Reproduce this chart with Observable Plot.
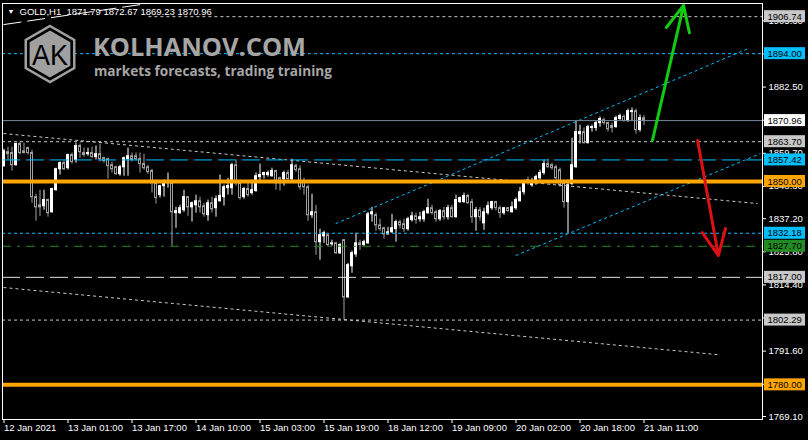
<!DOCTYPE html>
<html><head><meta charset="utf-8">
<script src="https://cdn.jsdelivr.net/npm/d3@7"></script>
<script src="https://cdn.jsdelivr.net/npm/@observablehq/plot@0.6"></script>
<style>
html,body{margin:0;padding:0;background:#000;}
#wrap{position:relative;width:808px;height:440px;overflow:hidden;background:#000;}
</style></head><body><div id="wrap"></div>
<script>
// ---- data ----
const opens = [1855.3,1860.1,1859.8,1855.6,1862.9,1860.4,1861.5,1859.8,1844.6,1841.8,1841.5,1843.6,1839.4,1847.0,1854.2,1856.3,1854.6,1859.1,1857.4,1862.2,
1859.8,1859.4,1859.8,1858.4,1859.4,1858.0,1857.7,1855.6,1854.9,1852.5,1854.9,1857.7,1858.7,1858.7,1857.7,1856.0,1854.9,1853.6,1849.4,1845.3,
1848.4,1849.4,1849.4,1839.1,1839.1,1840.1,1844.6,1841.1,1841.8,1843.2,1841.5,1838.4,1842.5,1840.8,1843.2,1844.6,1847.7,1847.7,1855.6,1849.4,
1844.6,1847.4,1846.0,1846.7,1851.5,1852.2,1852.2,1851.8,1853.6,1851.1,1850.8,1852.9,1850.8,1855.3,1854.2,1849.8,1848.0,1838.4,1839.4,1829.1,
1831.1,1831.5,1828.4,1828.7,1825.3,1829.8,1810.1,1820.8,1824.9,1828.7,1828.1,1828.7,1838.7,1838.4,1834.9,1833.9,1831.8,1832.5,1833.6,1836.0,
1835.3,1833.6,1836.7,1838.0,1837.0,1837.0,1839.1,1840.8,1839.4,1837.0,1839.8,1837.7,1840.8,1837.7,1842.9,1842.9,1845.0,1842.9,1837.7,1840.1,
1835.6,1839.1,1840.8,1842.9,1840.8,1839.1,1840.8,1839.4,1840.8,1843.2,1846.3,1850.5,1848.7,1849.8,1851.1,1852.9,1856.0,1855.6,1854.9,1853.9,
1849.4,1842.9,1849.1,1854.9,1866.3,1867.0,1863.2,1868.4,1868.4,1870.1,1871.1,1870.1,1869.1,1868.7,1871.5,1872.2,1870.8,1873.9,1874.2,1867.7,
1871.79];
const highs = [1861.1,1861.8,1861.8,1863.2,1863.6,1863.2,1861.8,1860.8,1845.6,1847.0,1847.0,1843.9,1847.7,1854.6,1856.7,1857.0,1859.4,1859.8,1863.2,1862.9,
1861.5,1861.5,1861.8,1862.2,1862.9,1858.4,1858.0,1856.7,1855.3,1855.6,1858.4,1861.5,1859.8,1859.8,1859.8,1859.4,1855.6,1854.2,1850.5,1848.7,
1850.5,1852.9,1850.5,1841.1,1841.8,1847.0,1844.6,1842.9,1845.3,1844.6,1842.5,1843.6,1844.6,1845.0,1852.2,1848.7,1851.1,1856.3,1857.4,1850.5,
1848.0,1849.4,1850.5,1852.9,1856.0,1853.2,1853.6,1854.6,1853.9,1851.5,1853.6,1853.9,1857.7,1856.0,1855.3,1851.1,1848.7,1845.6,1841.8,1833.6,
1832.9,1831.8,1829.8,1829.1,1828.7,1830.1,1821.8,1826.0,1832.2,1829.8,1829.8,1839.4,1841.1,1839.1,1837.0,1834.2,1834.2,1838.7,1836.7,1836.7,
1837.0,1837.7,1839.4,1839.1,1839.4,1840.1,1843.9,1841.8,1840.1,1840.4,1841.1,1841.8,1841.8,1845.3,1844.6,1846.0,1845.6,1843.9,1841.1,1841.1,
1840.8,1842.9,1843.2,1843.2,1841.5,1841.1,1841.1,1842.9,1844.3,1848.0,1850.5,1851.5,1851.1,1852.2,1853.9,1857.4,1857.7,1856.3,1855.6,1854.6,
1850.5,1850.5,1864.9,1870.8,1869.4,1868.4,1869.4,1869.4,1870.8,1872.2,1871.8,1870.4,1870.1,1872.5,1873.2,1872.9,1874.9,1875.3,1874.9,1872.9,
1872.67];
const lows = [1854.9,1857.4,1853.6,1855.3,1859.1,1859.4,1859.1,1842.5,1836.3,1838.0,1840.1,1837.7,1839.1,1846.7,1852.2,1853.9,1853.9,1856.0,1856.3,1858.0,
1858.4,1858.7,1858.0,1857.4,1856.7,1856.3,1850.8,1852.9,1852.2,1851.8,1851.8,1851.8,1856.7,1857.0,1852.9,1853.9,1852.5,1846.0,1842.2,1844.3,
1844.6,1847.7,1827.7,1833.9,1838.7,1839.4,1838.0,1836.0,1839.1,1839.1,1837.7,1836.3,1839.1,1837.7,1842.9,1841.5,1845.3,1845.3,1848.4,1843.6,
1843.9,1844.6,1845.3,1846.3,1850.1,1850.8,1851.5,1851.5,1847.0,1846.7,1848.4,1849.4,1849.8,1853.2,1847.0,1845.3,1836.3,1837.3,1824.6,1822.9,
1828.7,1827.4,1827.7,1824.9,1824.9,1802.29,1809.8,1818.4,1823.9,1826.3,1827.7,1828.4,1836.0,1832.9,1832.9,1830.1,1831.5,1832.2,1829.1,1833.6,
1832.5,1832.9,1836.0,1835.3,1836.0,1836.0,1838.7,1838.4,1836.0,1836.3,1836.7,1836.7,1837.4,1837.4,1842.5,1842.5,1842.2,1835.6,1832.9,1836.3,
1833.2,1838.4,1840.1,1839.8,1837.3,1838.4,1839.4,1839.1,1840.1,1842.9,1845.3,1848.7,1848.0,1848.7,1850.5,1852.2,1854.6,1853.9,1850.1,1848.0,
1840.8,1832.18,1848.7,1854.6,1862.9,1862.9,1862.9,1867.0,1867.3,1868.7,1869.4,1867.0,1866.7,1868.4,1871.1,1870.4,1870.4,1870.8,1866.3,1867.0,
1869.23];
const closes = [1860.4,1859.4,1855.6,1862.9,1859.8,1859.8,1859.8,1844.6,1841.1,1841.1,1843.6,1839.1,1847.4,1854.2,1856.3,1854.2,1859.1,1856.7,1862.2,1860.1,
1859.1,1859.8,1858.4,1859.4,1857.7,1857.0,1855.3,1854.2,1852.5,1854.9,1858.0,1858.7,1857.4,1857.7,1856.0,1854.6,1853.2,1849.4,1844.3,1848.4,
1849.4,1849.8,1839.4,1839.8,1840.8,1844.6,1841.1,1842.5,1843.2,1841.1,1838.7,1842.5,1840.4,1843.9,1845.0,1848.0,1848.4,1855.6,1849.4,1844.3,
1847.4,1845.3,1847.0,1851.8,1852.2,1852.9,1852.9,1853.6,1849.4,1849.4,1852.9,1850.8,1855.6,1853.9,1848.0,1848.0,1838.4,1839.4,1829.1,1831.5,
1832.2,1828.1,1828.7,1825.3,1828.1,1810.1,1821.2,1825.3,1828.7,1828.1,1829.1,1838.7,1839.4,1834.9,1833.6,1831.8,1832.5,1833.9,1836.0,1834.9,
1833.6,1837.0,1838.0,1836.7,1837.7,1839.4,1840.8,1839.1,1837.0,1839.8,1837.7,1840.8,1837.7,1843.6,1844.3,1845.0,1842.5,1837.7,1840.1,1837.7,
1839.4,1841.5,1842.9,1840.8,1839.1,1840.8,1839.8,1841.1,1843.6,1846.3,1849.4,1849.8,1849.8,1851.5,1852.9,1856.0,1854.9,1854.6,1851.1,1848.7,
1842.9,1848.7,1855.6,1867.0,1867.0,1863.2,1868.7,1868.7,1870.1,1871.5,1870.1,1868.0,1868.4,1871.8,1872.5,1870.8,1874.2,1874.2,1867.7,1871.8,
1870.96];

const timeTicks = [0,16,32,48,64,80,96,112,128,144,160];
const timeLabels = ["12 Jan 2021","13 Jan 01:00","13 Jan 17:00","14 Jan 10:00","15 Jan 03:00","15 Jan 19:00","18 Jan 12:00","19 Jan 09:00","20 Jan 02:00","20 Jan 18:00","21 Jan 11:00"];
const priceTicks = [1905.30,1893.90,1882.50,1871.10,1859.70,1848.30,1837.20,1825.80,1814.40,1803.00,1791.60,1780.20,1769.10];
const levelValues = [1906.74,1894.00,1870.96,1863.70,1857.42,1850.00,1832.18,1827.70,1817.00,1802.29,1780.00];
// trend lines: [barIndex1, price1, barIndex2, price2]
const trendDown1 = [-0.125,1866.5,188.4,1842.4];
const trendDown2 = [-0.125,1813.5,178.4,1790.4];
const channelUp = [82.9,1835.5,186.1,1895.8];
const channelLow = [127.9,1824.5,189.1,1859.6];
const topDiag = [-0.125,1904.0,36.1,1911.3];
const arrowUp = [162.1,1864.1,169.9,1910.6];
const arrowDown = [173.4,1864.1,178.6,1824.5];
const titleText = "GOLD,H1  1871.79 1872.67 1869.23 1870.96";

// ---- styles ----
const SILVER = "#c8c8c8", CYAN = "#00bfff", ORANGE = "#ffa500", GREEN = "#228b22";
const levelStyle = [
  {stroke: SILVER, dash: "3,3", w: 1, box: SILVER},
  {stroke: CYAN, dash: "3,3", w: 1, box: CYAN},
  {stroke: "#778899", dash: null, w: 1, box: "#ffffff"},
  {stroke: SILVER, dash: "3,3", w: 1, box: SILVER},
  {stroke: CYAN, dash: "18,6", w: 1, box: CYAN},
  {stroke: ORANGE, dash: null, w: 4, box: ORANGE},
  {stroke: CYAN, dash: "3,3", w: 1, box: CYAN},
  {stroke: GREEN, dash: "9,6,3,6", w: 1, box: GREEN},
  {stroke: "#e0e0e0", dash: "18,6", w: 1, box: SILVER},
  {stroke: SILVER, dash: "3,3", w: 1, box: SILVER},
  {stroke: ORANGE, dash: null, w: 4, box: ORANGE}
];

const bars = opens.map((o, i) => ({i, o, h: highs[i], l: lows[i], c: closes[i]}));
const up = bars.filter(d => d.c >= d.o);
const down = bars.filter(d => d.c < d.o);
const levels = levelValues.map((v, k) => ({v, ...levelStyle[k]}));
const xDomain = [-0.375, 189.625];
const xMax = xDomain[1];
const seg = a => [{x1: a[0], y1: a[1], x2: a[2], y2: a[3]}];
const topLevel = levels[0];
const fullLevels = levels.slice(1);

const marks = [
  Plot.axisY({anchor: "right", ticks: priceTicks, tickFormat: d => d.toFixed(2), tickSize: 3, tickPadding: 3, color: "#fff"}),
  Plot.axisX({anchor: "bottom", ticks: timeTicks, tickFormat: d => timeLabels[timeTicks.indexOf(d)], tickSize: 4, tickPadding: 1, textAnchor: "start", dx: 0, color: "#fff"}),
  // candles
  Plot.ruleX(down, {x: "i", y1: "l", y2: "h", stroke: "#a0a0a0"}),
  Plot.ruleX(up, {x: "i", y1: "l", y2: "h", stroke: "#ffffff"}),
  Plot.rect(down, {x1: d => d.i - 0.25, x2: d => d.i + 0.25, y1: "o", y2: "c", fill: "#000", stroke: "#a0a0a0"}),
  Plot.rect(up, {x1: d => d.i - 0.25, x2: d => d.i + 0.25, y1: "o", y2: "c", fill: "#fff", stroke: "#fff"}),
  // trend lines
  Plot.link(seg(trendDown1), {x1: "x1", y1: "y1", x2: "x2", y2: "y2", stroke: SILVER, strokeDasharray: "3,3"}),
  Plot.link(seg(trendDown2), {x1: "x1", y1: "y1", x2: "x2", y2: "y2", stroke: SILVER, strokeDasharray: "3,3"}),
  Plot.link(seg(channelUp), {x1: "x1", y1: "y1", x2: "x2", y2: "y2", stroke: CYAN, strokeDasharray: "3,3"}),
  Plot.link(seg(channelLow), {x1: "x1", y1: "y1", x2: "x2", y2: "y2", stroke: CYAN, strokeDasharray: "3,3"}),
  Plot.link(seg(topDiag), {x1: "x1", y1: "y1", x2: "x2", y2: "y2", stroke: "#ffffff", strokeDasharray: "18,6"}),
  // horizontal levels
  Plot.link([topLevel], {x1: () => topDiag[2], x2: () => xMax, y1: "v", y2: "v", stroke: topLevel.stroke, strokeDasharray: topLevel.dash}),
  ...fullLevels.map(l => Plot.ruleY([l.v], {stroke: l.stroke, strokeWidth: l.w, strokeDasharray: l.dash ?? undefined})),
  // arrows
  Plot.arrow(seg(arrowUp), {x1: "x1", y1: "y1", x2: "x2", y2: "y2", stroke: "#11cc11", strokeWidth: 3, headLength: 14, headAngle: 50}),
  Plot.arrow(seg(arrowDown), {x1: "x1", y1: "y1", x2: "x2", y2: "y2", stroke: "#dd1111", strokeWidth: 3, headLength: 14, headAngle: 50}),
  Plot.frame({stroke: "#fff"}),
  // price boxes
  Plot.rect(levels, {x1: () => xMax, x2: () => xMax, y1: "v", y2: "v", fill: "box", insetLeft: 2, insetRight: -43, insetTop: -6, insetBottom: -6}),
  Plot.text(levels, {x: () => xMax, y: "v", text: d => d.v.toFixed(2), dx: 5, textAnchor: "start", fill: "#000"}),
  // title
  Plot.text([titleText], {frameAnchor: "top-left", dx: 17, dy: 8, textAnchor: "start", lineAnchor: "middle", fill: "#fff"}),
  Plot.text(["\u25BC"], {frameAnchor: "top-left", dx: 5, dy: 8, textAnchor: "start", lineAnchor: "middle", fill: "#fff", fontSize: 7})
];

const chart = Plot.plot({
  width: 808, height: 440,
  marginTop: 3, marginRight: 46, marginBottom: 21, marginLeft: 2,
  style: {background: "#000", color: "#fff", fontFamily: "'Liberation Sans', Arial, sans-serif", fontSize: "9.5px", overflow: "visible"},
  x: {domain: xDomain, axis: null},
  y: {domain: [1768.07, 1911.27], axis: null},
  marks
});
document.getElementById("wrap").appendChild(chart);

// watermark
const svg = d3.select(chart);
const wm = svg.append("g").attr("class", "watermark").attr("text-anchor", "start");
const hex = (cx, cy, r) => d3.range(6).map(k => {
  const a = (-90 + 60 * k) * Math.PI / 180;
  return [cx + r * Math.cos(a), cy + r * Math.sin(a)];
});
wm.append("polygon").attr("points", hex(50, 54, 28).join(" ")).attr("fill", "#000").attr("stroke", "#a0a0a0").attr("stroke-width", 2.5);
wm.append("polygon").attr("points", hex(50, 54, 23.5).join(" ")).attr("fill", "#a0a0a0");
wm.append("text").attr("x", 50).attr("y", 65).attr("text-anchor", "middle")
  .attr("font-family", "'Liberation Sans', Arial, sans-serif").attr("font-size", 30).attr("fill", "#000")
  .attr("textLength", 36).attr("lengthAdjust", "spacingAndGlyphs").text("AK");
wm.append("text").attr("x", 93).attr("y", 56).attr("text-anchor", "start")
  .attr("font-family", "'Open Sans', sans-serif").attr("font-weight", 700).attr("font-size", 25).attr("fill", "#a6a6a6")
  .attr("textLength", 213).attr("lengthAdjust", "spacingAndGlyphs").text("KOLHANOV.COM");
wm.append("text").attr("x", 94).attr("y", 76).attr("text-anchor", "start")
  .attr("font-family", "'Open Sans', sans-serif").attr("font-weight", 700).attr("font-size", 15).attr("fill", "#a6a6a6")
  .attr("textLength", 238).attr("lengthAdjust", "spacingAndGlyphs").text("markets forecasts, trading training");
</script></body></html>
